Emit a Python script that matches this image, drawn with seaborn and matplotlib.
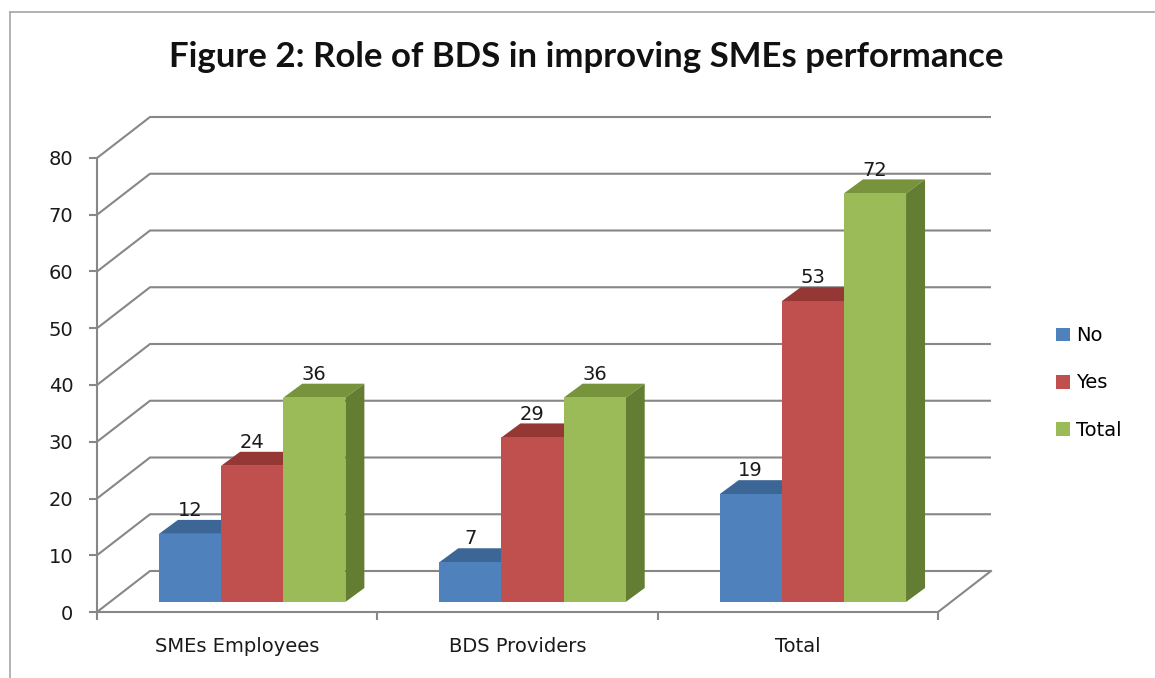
import numpy as np
import pandas as pd
import seaborn as sns
import matplotlib.pyplot as plt
from matplotlib.lines import Line2D
from matplotlib.patches import Polygon

groups = ["SMEs Employees", "BDS Providers", "Total"]
answers = ["No", "Yes", "Total"]
no_counts = [12, 7, 19]
yes_counts = [24, 29, 53]
total_counts = [36, 36, 72]
yticks = list(range(0, 81, 10))

front_colors = ["#4F81BD", "#C0504D", "#9BBB59"]
top_colors = ["#3C6696", "#943735", "#77933C"]
side_colors = ["#385D8A", "#8A3533", "#637E33"]
grid_col = "#878787"
text_col = "#1a1a1a"

df = pd.DataFrame({
    "group": groups * 3,
    "answer": np.repeat(answers, len(groups)),
    "count": no_counts + yes_counts + total_counts,
})

W, H = 1155, 678
fig = plt.figure(figsize=(W / 100, H / 100), dpi=100)


def px(x, y, w, h):
    # pixel box measured from the top-left corner -> figure fraction rect
    return [x / W, 1 - (y + h) / H, w / W, h / H]


# front plane of the fake 3d box: carries the ticks and labels
axf = fig.add_axes(px(97, 158, 841, 454))
axf.set_xlim(0, 3)
axf.set_ylim(0, 80)

# depth of the box and of the bars, pixels -> data units
ux, uy = 841 / 3, 454 / 80
DX, DY = 53 / ux, 41 / uy
bdx, bdy = 19 / ux, 14 / uy

# back wall gridlines + left wall diagonals
for y in yticks:
    axf.plot([0, DX, 3 + DX], [y, y + DY, y + DY], color=grid_col, lw=1.5,
             clip_on=False, zorder=1, solid_capstyle="butt")
axf.plot([3, 3 + DX], [0, DY], color=grid_col, lw=1.5, clip_on=False)

for s in ["top", "right"]:
    axf.spines[s].set_visible(False)
for s in ["left", "bottom"]:
    axf.spines[s].set_color(grid_col)
    axf.spines[s].set_linewidth(1.5)

axf.set_yticks(yticks)
axf.tick_params(axis="y", length=6, width=1.5, color=grid_col, pad=11,
                labelsize=14, labelcolor=text_col)
axf.set_xticks([0, 1, 2, 3])
axf.set_xticklabels([])
axf.set_xticks([0.5, 1.5, 2.5], minor=True)
axf.set_xticklabels(groups, minor=True)
axf.tick_params(axis="x", which="major", length=6, width=1.5, color=grid_col)
axf.tick_params(axis="x", which="minor", length=0, pad=18, labelsize=14,
                labelcolor=text_col)

# bar plane, pushed back into the box
ax = fig.add_axes(px(112, 148, 841, 454))
sns.barplot(data=df, x="group", y="count", hue="answer", hue_order=answers,
            palette=front_colors, saturation=1, width=0.665, ax=ax,
            linewidth=0, edgecolor="none")
ax.set_xlim(-0.5, 2.5)
ax.set_ylim(0, 80)

for i, cont in enumerate(ax.containers):
    for bar in cont:
        x0, w, h = bar.get_x(), bar.get_width(), bar.get_height()
        ax.add_patch(Polygon([(x0, h), (x0 + w, h), (x0 + w + bdx, h + bdy), (x0 + bdx, h + bdy)],
                             closed=True, fc=top_colors[i], ec="none", zorder=0.5, clip_on=False))
        ax.add_patch(Polygon([(x0 + w, 0), (x0 + w + bdx, bdy), (x0 + w + bdx, h + bdy), (x0 + w, h)],
                             closed=True, fc=side_colors[i], ec="none", zorder=0.5, clip_on=False))
    ax.bar_label(cont, padding=10, fontsize=14, color=text_col)

handles, labels = ax.get_legend_handles_labels()
ax.get_legend().remove()
ax.set_axis_off()

fig.legend(handles, labels, loc="center left", bbox_to_anchor=(1056 / W, 1 - 383 / H),
           frameon=False, fontsize=14, handlelength=0.7, handleheight=0.7,
           handletextpad=0.35, labelspacing=1.45, borderpad=0, borderaxespad=0)

fig.text(586 / W, 1 - 57 / H, "Figure 2: Role of BDS in improving SMEs performance",
         ha="center", va="center", fontsize=25, fontweight="bold",
         family=["Lato", "DejaVu Sans"], color="#111111")

# chart border (only the top and left edges show in the crop)
fig.add_artist(Line2D([10 / W, 10 / W], [0, 1 - 12 / H], color="#A6A6A6", lw=1.2))
fig.add_artist(Line2D([10 / W, 1], [1 - 12 / H, 1 - 12 / H], color="#A6A6A6", lw=1.2))

fig.savefig("out.png", dpi=100)
